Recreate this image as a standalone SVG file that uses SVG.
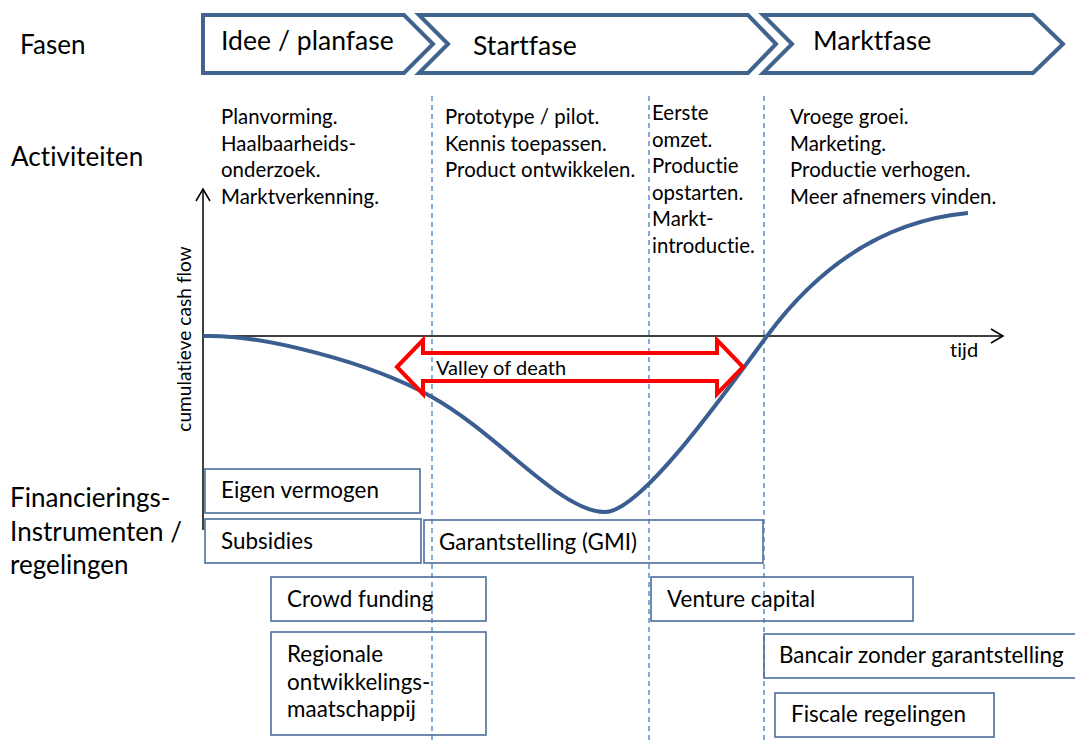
<svg xmlns="http://www.w3.org/2000/svg" width="1075" height="740" viewBox="0 0 1075 740">
<style>
text{font-family:Lato,"Noto Sans","Liberation Sans",sans-serif;fill:#000;font-variant-ligatures:none;font-feature-settings:"liga" 0,"clig" 0,"dlig" 0;letter-spacing:0.05px}
.lbl{font-size:26px}
.ph{font-size:26.5px}
.act{font-size:20.4px}
.box{font-size:22.4px}
.chev{fill:#fff;stroke:#41648F;stroke-width:4}
.bx{fill:none;stroke:#4A6E9C;stroke-width:1.6}
.dash{stroke:#4A7EBB;stroke-width:1.3;stroke-dasharray:5 4;fill:none}
.ax{stroke:#000;stroke-width:1.5;fill:none}
</style>
<g id="labels">
<text class="lbl" x="20" y="54">Fasen</text>
<text class="lbl" x="11" y="166">Activiteiten</text>
<text class="lbl" x="10" y="507">Financierings-</text>
<text class="lbl" x="10" y="540.5">Instrumenten /</text>
<text class="lbl" x="10" y="574">regelingen</text>
</g>
<g id="phase1"><polygon class="chev" points="203,15 404,15 433,44 404,73 203,73"/><text class="ph" x="221" y="50">Idee / planfase</text></g>
<g id="phase2"><polygon class="chev" points="419,15 748,15 776,44 748,73 419,73 448,44"/><text class="ph" x="473" y="55">Startfase</text></g>
<g id="phase3"><polygon class="chev" points="763,15 1033,15 1063,44 1033,73 763,73 792,44"/><text class="ph" x="813" y="50">Marktfase</text></g>
<g id="dividers">
<line class="dash" x1="432" y1="96" x2="432" y2="740"/>
<line class="dash" x1="649" y1="96" x2="649" y2="740"/>
<line class="dash" x1="764" y1="96" x2="764" y2="740"/>
</g>
<g id="act1" class="act"><text x="221" y="124">Planvorming.</text><text x="221" y="150.5">Haalbaarheids-</text><text x="221" y="177">onderzoek.</text><text x="221" y="203.5">Marktverkenning.</text></g>
<g id="act2" class="act"><text x="445" y="124">Prototype / pilot.</text><text x="445" y="150.5">Kennis toepassen.</text><text x="445" y="177">Product ontwikkelen.</text></g>
<g id="act3" class="act"><text x="652" y="120">Eerste</text><text x="652" y="146.5">omzet.</text><text x="652" y="173">Productie</text><text x="652" y="199.5">opstarten.</text><text x="652" y="226">Markt-</text><text x="652" y="252.5">introductie.</text></g>
<g id="act4" class="act"><text x="790" y="124">Vroege groei.</text><text x="790" y="150.5">Marketing.</text><text x="790" y="177">Productie verhogen.</text><text x="790" y="203.5">Meer afnemers vinden.</text></g>
<g id="axes">
<line class="ax" x1="203" y1="530" x2="203" y2="190"/>
<polyline class="ax" points="196,201 203,189 210,201"/>
<line class="ax" x1="203" y1="336" x2="1002" y2="336"/>
<polyline class="ax" points="991,329 1003,336 991,343"/>
<text x="950" y="357" style="font-size:20px">tijd</text>
<text transform="translate(191,339) rotate(-90)" text-anchor="middle" style="font-size:19px">cumulatieve cash flow</text>
</g>
<g id="curve">
<path d="M203,336 C260,334 370,362 432,397 C500,435 560,512 605,512 C640,512 720,400 767,336 C807,282 870,222 968,213" fill="none" stroke="#3B5E91" stroke-width="4"/>
</g>
<g id="valley">
<polygon points="397,367 423,340 423,353 717,353 717,340 743,367 717,394 717,381 423,381 423,394" fill="none" stroke="#FF0000" stroke-width="4"/>
<text x="436" y="375" style="font-size:20px">Valley of death</text>
</g>
<g id="eigen"><rect class="bx" x="205" y="469" width="215" height="44"/><text class="box" x="221" y="498">Eigen vermogen</text></g>
<g id="subsidies"><rect class="bx" x="205" y="519" width="216" height="44"/><text class="box" x="221" y="549">Subsidies</text></g>
<g id="garant"><rect class="bx" x="424" y="520" width="339" height="43"/><text class="box" x="439" y="550">Garantstelling (GMI)</text></g>
<g id="crowd"><rect class="bx" x="271" y="577" width="215" height="44"/><text class="box" x="287" y="607">Crowd funding</text></g>
<g id="regionale"><rect class="bx" x="271" y="632" width="215" height="103"/><text class="box" x="287" y="662">Regionale</text><text class="box" x="287" y="689.5">ontwikkelings-</text><text class="box" x="287" y="717">maatschappij</text></g>
<g id="venture"><rect class="bx" x="651" y="577" width="262" height="44"/><text class="box" x="667" y="607">Venture capital</text></g>
<g id="bancair"><rect class="bx" x="764" y="634" width="320" height="44"/><text class="box" x="779" y="663">Bancair zonder garantstelling</text></g>
<g id="fiscaal"><rect class="bx" x="775" y="693" width="219" height="44"/><text class="box" x="791" y="722">Fiscale regelingen</text></g>
</svg>
